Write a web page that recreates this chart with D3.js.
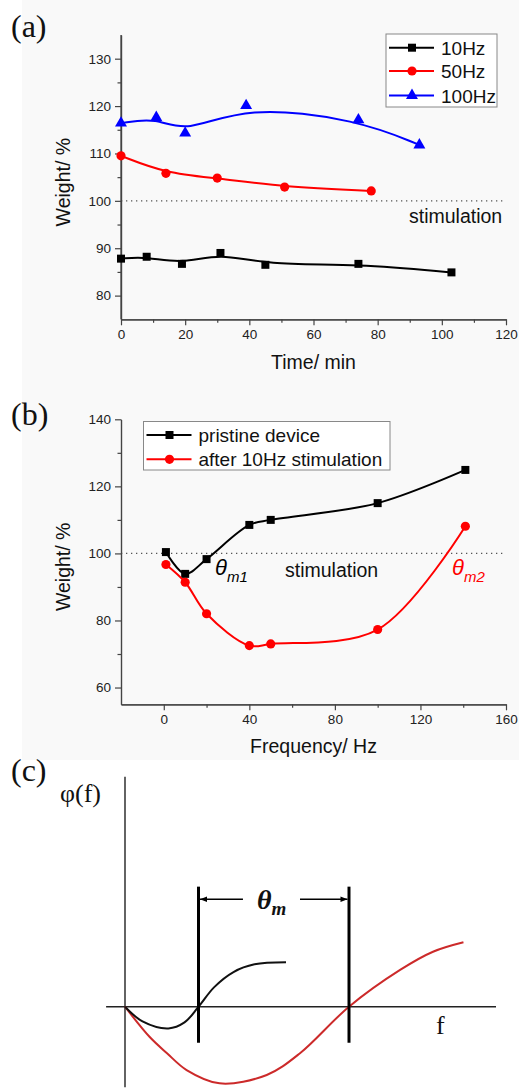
<!DOCTYPE html>
<html>
<head>
<meta charset="utf-8">
<script src="https://cdn.jsdelivr.net/npm/d3@7"></script>
<style>
  body { margin: 0; background: #fff; }
  svg { display: block; }
  text { font-family: "Liberation Sans", Arial, sans-serif; fill: #111; }
  .axis path, .axis line { stroke: #444; stroke-width: 1.2; }
  .axis text { font-size: 13.5px; fill: #222; font-family: "Liberation Sans", Arial, sans-serif; }
</style>
</head>
<body>
<div id="chart"></div>
<script>
// ---- panel (a): weight vs time for three stimulation frequencies
const timeA10 = [0, 8, 19, 31, 45, 74, 103];
const weightA10 = [87.8, 88.2, 86.7, 89.0, 86.5, 86.7, 84.9];
const timeA50 = [0, 14, 30, 51, 78];
const weightA50 = [109.5, 105.8, 104.8, 102.9, 102.1];
const timeA100 = [0, 11, 20, 39, 74, 93];
const weightA100 = [116.4, 117.6, 114.3, 120.1, 117.1, 111.8];
const ticksAx = [0, 20, 40, 60, 80, 100, 120];
const minorAx = [10, 30, 50, 70, 90, 110];
const ticksAy = [80, 90, 100, 110, 120, 130];
const minorAy = [85, 95, 105, 115, 125];

// ---- panel (b): weight vs frequency
const freqB = [1, 10, 20, 40, 50, 100, 141];
const weightPristine = [100.4, 93.9, 98.3, 108.5, 110.0, 115.0, 124.9];
const weightAfter = [96.7, 91.4, 82.0, 72.5, 73.0, 77.3, 108.1];
const ticksBx = [0, 40, 80, 120, 160];
const minorBx = [20, 60, 100, 140];
const ticksBy = [60, 80, 100, 120, 140];
const minorBy = [70, 90, 110, 130];

// ---- panel (c): schematic phi(f)
const fBlack = [0, 5, 12.4, 17, 21, 25.5, 31, 37, 46];
const phiBlack = [0, -4.2, -6.2, -4.5, 0, 5.6, 9.9, 12.1, 12.7];
const fRed = [0, 7, 12, 17.6, 27, 40.5, 50, 64, 78.6, 88, 96.7];
const phiRed = [0, -8.6, -13.3, -18.1, -21.9, -19.5, -13.3, 0, 10.5, 15.7, 18.4];
const thetaBounds = [21, 64];

const W = 519, H = 1089;
const svg = d3.select("#chart").append("svg")
    .attr("width", W)
    .attr("height", H);

// faint grey backdrop of the scanned plots
svg.append("rect")
    .attr("x", 22).attr("y", 0)
    .attr("width", W - 22).attr("height", 760)
    .attr("fill", "#f9f9f9");

const sym = {
    square: d3.symbol().type(d3.symbolSquare).size(64),
    circle: d3.symbol().type(d3.symbolCircle).size(66),
    triangle: d3.symbol().type(d3.symbolTriangle).size(62)
};

function drawAxes(x, y, major, minor, majorY, minorY) {
    const g = svg.append("g");
    const bottom = y.range()[0], left = x.range()[0];
    g.append("g").attr("class", "axis")
        .attr("transform", `translate(0,${bottom})`)
        .call(d3.axisBottom(x).tickValues(major).tickSize(6).tickPadding(4).tickSizeOuter(0));
    g.append("g").attr("class", "axis")
        .attr("transform", `translate(0,${bottom})`)
        .call(d3.axisBottom(x).tickValues(minor).tickSize(3.5).tickFormat("").tickSizeOuter(0));
    g.append("g").attr("class", "axis")
        .attr("transform", `translate(${left},0)`)
        .call(d3.axisLeft(y).tickValues(majorY).tickSize(6).tickPadding(4).tickSizeOuter(0));
    g.append("g").attr("class", "axis")
        .attr("transform", `translate(${left},0)`)
        .call(d3.axisLeft(y).tickValues(minorY).tickSize(3.5).tickFormat("").tickSizeOuter(0));
}

function drawSeries(x, y, xs, ys, color, shape, curve) {
    const pts = xs.map((d, i) => [d, ys[i]]);
    svg.append("path")
        .datum(pts)
        .attr("fill", "none")
        .attr("stroke", color)
        .attr("stroke-width", 2)
        .attr("d", d3.line().x(d => x(d[0])).y(d => y(d[1])).curve(curve));
    svg.append("g").selectAll("path")
        .data(pts)
        .enter().append("path")
        .attr("d", sym[shape])
        .attr("transform", d => `translate(${x(d[0])},${y(d[1])})`)
        .attr("fill", color);
}

function drawLegend(x0, y0, w, h, items, rowY) {
    svg.append("rect")
        .attr("x", x0).attr("y", y0).attr("width", w).attr("height", h)
        .attr("fill", "#fff").attr("stroke", "#888").attr("stroke-width", 1);
    items.forEach((it, i) => {
        const cy = rowY[i];
        svg.append("line")
            .attr("x1", x0 + 3).attr("x2", x0 + 48)
            .attr("y1", cy).attr("y2", cy)
            .attr("stroke", it.color).attr("stroke-width", 2);
        svg.append("path")
            .attr("d", sym[it.shape])
            .attr("transform", `translate(${x0 + 26},${cy})`)
            .attr("fill", it.color);
        svg.append("text")
            .attr("x", x0 + 55).attr("y", cy + 7)
            .style("font-size", "19px")
            .text(it.label);
    });
}

// ================= panel (a)
const xA = d3.scaleLinear().domain([0, 120]).range([121, 506]);
const yA = d3.scaleLinear().domain([75, 135]).range([319.3, 35]);

svg.append("line")
    .attr("x1", xA(0)).attr("x2", xA(120))
    .attr("y1", yA(100)).attr("y2", yA(100))
    .attr("stroke", "#555").attr("stroke-width", 1.2)
    .attr("stroke-dasharray", "1.3,3.7");

drawAxes(xA, yA, ticksAx, minorAx, ticksAy, minorAy);
// y axis line continues above the last tick
svg.append("line")
    .attr("x1", xA(0)).attr("x2", xA(0))
    .attr("y1", yA(135)).attr("y2", yA(75))
    .attr("stroke", "#444").attr("stroke-width", 1.2);

drawSeries(xA, yA, timeA10, weightA10, "#000", "square", d3.curveBasis);
drawSeries(xA, yA, timeA50, weightA50, "#f00", "circle", d3.curveBasis);
drawSeries(xA, yA, timeA100, weightA100, "#00f", "triangle", d3.curveBasis);

drawLegend(386, 34, 111, 73, [
    { label: "10Hz", color: "#000", shape: "square" },
    { label: "50Hz", color: "#f00", shape: "circle" },
    { label: "100Hz", color: "#00f", shape: "triangle" }
], [47.7, 71, 95.5]);

svg.append("text")
    .attr("x", 409).attr("y", 222.5)
    .style("font-size", "19.5px")
    .text("stimulation");

svg.append("text")
    .attr("x", 313.5).attr("y", 369)
    .attr("text-anchor", "middle")
    .style("font-size", "19.5px")
    .text("Time/ min");

svg.append("text")
    .attr("transform", `translate(70,${(yA.range()[0] + yA.range()[1]) / 2 + 5}) rotate(-90)`)
    .attr("text-anchor", "middle")
    .style("font-size", "19.5px")
    .text("Weight/ %");

svg.append("text")
    .attr("x", 11).attr("y", 37)
    .style("font-family", "'Liberation Serif', 'Times New Roman', serif")
    .style("font-size", "32px")
    .text("(a)");

// ================= panel (b)
const xB = d3.scaleLinear().domain([-20, 160]).range([121, 506]);
const yB = d3.scaleLinear().domain([55, 140]).range([704.3, 419.3]);

svg.append("line")
    .attr("x1", xB(-20)).attr("x2", xB(160))
    .attr("y1", yB(100)).attr("y2", yB(100))
    .attr("stroke", "#555").attr("stroke-width", 1.2)
    .attr("stroke-dasharray", "1.3,3.7");

drawAxes(xB, yB, ticksBx, minorBx, ticksBy, minorBy);

drawSeries(xB, yB, freqB, weightPristine, "#000", "square", d3.curveCatmullRom);
drawSeries(xB, yB, freqB, weightAfter, "#f00", "circle", d3.curveCatmullRom);

drawLegend(143.5, 421.5, 246.5, 48.5, [
    { label: "pristine device", color: "#000", shape: "square" },
    { label: "after 10Hz stimulation", color: "#f00", shape: "circle" }
], [435, 459.3]);

svg.append("text")
    .attr("x", 285).attr("y", 576.5)
    .style("font-size", "19.5px")
    .text("stimulation");

function thetaLabel(x, y, sub, color) {
    const t = svg.append("text")
        .attr("x", x).attr("y", y)
        .style("font-style", "italic")
        .style("font-size", "22px")
        .style("fill", color);
    t.append("tspan").text("θ");
    t.append("tspan").attr("dy", 7).style("font-size", "15px").text(sub);
}
thetaLabel(215, 575, "m1", "#000");
thetaLabel(452, 575, "m2", "#f00");

svg.append("text")
    .attr("x", 313.5).attr("y", 753)
    .attr("text-anchor", "middle")
    .style("font-size", "19.5px")
    .text("Frequency/ Hz");

svg.append("text")
    .attr("transform", `translate(70,${(yB.range()[0] + yB.range()[1]) / 2 + 5}) rotate(-90)`)
    .attr("text-anchor", "middle")
    .style("font-size", "19.5px")
    .text("Weight/ %");

svg.append("text")
    .attr("x", 11).attr("y", 425)
    .style("font-family", "'Liberation Serif', 'Times New Roman', serif")
    .style("font-size", "32px")
    .text("(b)");

// ================= panel (c)
const xC = d3.scaleLinear().domain([0, 100]).range([125, 475]);
const yC = d3.scaleLinear().domain([-23, 66]).range([1087.2, 775.7]);

const defs = svg.append("defs");
defs.append("marker")
    .attr("id", "arrow")
    .attr("viewBox", "0 0 10 10")
    .attr("refX", 10).attr("refY", 5)
    .attr("markerWidth", 9).attr("markerHeight", 7)
    .attr("markerUnits", "userSpaceOnUse")
    .attr("orient", "auto-start-reverse")
    .append("path")
    .attr("d", "M0,1L10,5L0,9Z")
    .attr("fill", "#000");

// axes of the schematic
svg.append("line")
    .attr("x1", xC(-5.4)).attr("x2", xC(106))
    .attr("y1", yC(0)).attr("y2", yC(0))
    .attr("stroke", "#222").attr("stroke-width", 1.4);
svg.append("line")
    .attr("x1", xC(0)).attr("x2", xC(0))
    .attr("y1", yC(-23)).attr("y2", yC(65.7))
    .attr("stroke", "#222").attr("stroke-width", 1.4);

const lineC = d3.line().x(d => xC(d[0])).y(d => yC(d[1])).curve(d3.curveCatmullRom);
svg.append("path")
    .datum(fRed.map((d, i) => [d, phiRed[i]]))
    .attr("fill", "none").attr("stroke", "#cc2a2a").attr("stroke-width", 2)
    .attr("d", lineC);
svg.append("path")
    .datum(fBlack.map((d, i) => [d, phiBlack[i]]))
    .attr("fill", "none").attr("stroke", "#111").attr("stroke-width", 2)
    .attr("d", lineC);

svg.append("g").selectAll("line")
    .data(thetaBounds)
    .enter().append("line")
    .attr("x1", d => xC(d)).attr("x2", d => xC(d))
    .attr("y1", yC(34.3)).attr("y2", yC(-10.3))
    .attr("stroke", "#000").attr("stroke-width", 3);

svg.append("line")
    .attr("x1", xC(33.7)).attr("x2", xC(thetaBounds[0]) + 1.5)
    .attr("y1", yC(30.7)).attr("y2", yC(30.7))
    .attr("stroke", "#000").attr("stroke-width", 1.3)
    .attr("marker-end", "url(#arrow)");
svg.append("line")
    .attr("x1", xC(50)).attr("x2", xC(thetaBounds[1]) - 1.5)
    .attr("y1", yC(30.7)).attr("y2", yC(30.7))
    .attr("stroke", "#000").attr("stroke-width", 1.3)
    .attr("marker-end", "url(#arrow)");

const serif = "'Liberation Serif', 'Times New Roman', serif";
const tm = svg.append("text")
    .attr("x", 257).attr("y", 909)
    .style("font-family", serif)
    .style("font-style", "italic")
    .style("font-weight", "bold")
    .style("font-size", "28px");
tm.append("tspan").text("θ");
tm.append("tspan").attr("dy", 6).style("font-size", "19px").text("m");

svg.append("text")
    .attr("x", 60).attr("y", 802)
    .style("font-family", serif)
    .style("font-size", "26px")
    .text("φ(f)");

svg.append("text")
    .attr("x", 436).attr("y", 1034)
    .style("font-family", serif)
    .style("font-size", "26px")
    .text("f");

svg.append("text")
    .attr("x", 11).attr("y", 781)
    .style("font-family", serif)
    .style("font-size", "32px")
    .text("(c)");
</script>
</body>
</html>
